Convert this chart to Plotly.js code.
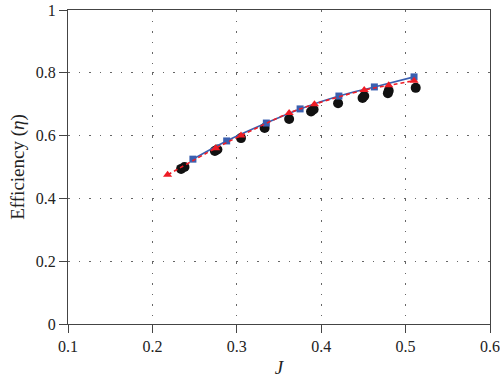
<!DOCTYPE html>
<html>
<head>
<meta charset="utf-8">
<script src="https://cdn.plot.ly/plotly-3.0.1.min.js"></script>
<style>html,body{margin:0;padding:0;background:#fff;}#chart{width:500px;height:390px;}</style>
</head>
<body>
<div id="chart"></div>
<script>
// Blue squares (solid line)
const sqJ   = [0.248, 0.288, 0.335, 0.375, 0.421, 0.463, 0.510];
const sqEff = [0.525, 0.583, 0.640, 0.685, 0.726, 0.755, 0.787];
// Red triangles (dashed line)
const trJ   = [0.218, 0.275, 0.305, 0.362, 0.392, 0.451, 0.480, 0.510];
const trEff = [0.475, 0.560, 0.600, 0.672, 0.700, 0.745, 0.760, 0.775];
// Black circles
const ciJ   = [0.234, 0.238, 0.274, 0.277, 0.305, 0.333, 0.362, 0.388, 0.391, 0.420, 0.449, 0.451, 0.479, 0.480, 0.512];
const ciEff = [0.494, 0.500, 0.551, 0.556, 0.592, 0.624, 0.653, 0.677, 0.683, 0.703, 0.720, 0.726, 0.735, 0.743, 0.752];

const xTicks = [0.1, 0.2, 0.3, 0.4, 0.5, 0.6];
const yTicks = [0, 0.2, 0.4, 0.6, 0.8, 1];
const xTickText = ['0.1','0.2','0.3','0.4','0.5','0.6'];
const yTickText = ['0','0.2','0.4','0.6','0.8','1'];

const traces = [
  {x: ciJ, y: ciEff, mode: 'markers', type: 'scatter',
   marker: {symbol: 'circle', size: 10, color: '#111111'}},
  {x: sqJ, y: sqEff, mode: 'lines+markers', type: 'scatter',
   line: {color: '#3a5fb0', width: 1.6, shape: 'spline'},
   marker: {symbol: 'square', size: 7, color: '#3a5fb0'}},
  {x: trJ, y: trEff, mode: 'lines+markers', type: 'scatter',
   line: {color: '#ee1c25', width: 1.6, dash: '4px,3px', shape: 'spline'},
   marker: {symbol: 'triangle-up', size: 8, color: '#ee1c25'}}
];

const axisCommon = {
  showline: true, linecolor: '#444', linewidth: 1, mirror: true,
  ticks: 'outside', ticklen: 8, tickcolor: '#444', tickwidth: 1,
  showgrid: true, gridcolor: '#666', griddash: '1.5px,9px', gridwidth: 1.2,
  zeroline: false,
  tickfont: {family: 'Liberation Serif, DejaVu Serif, serif', size: 16, color: '#222'}
};

const layout = {
  width: 500, height: 390,
  margin: {l: 68, r: 10, t: 10, b: 66},
  paper_bgcolor: '#fff', plot_bgcolor: '#fff',
  showlegend: false,
  xaxis: Object.assign({}, axisCommon, {
    range: [0.1, 0.6], tickvals: xTicks, ticktext: xTickText,
    title: {text: '<i>J</i>', font: {family: 'Liberation Serif, serif', size: 19, color: '#222'}, standoff: 6}
  }),
  yaxis: Object.assign({}, axisCommon, {
    range: [0, 1], tickvals: yTicks, ticktext: yTickText,
    title: {text: 'Efficiency (<i>η</i>)', font: {family: 'Liberation Serif, serif', size: 19, color: '#222'}, standoff: 6}
  })
};

Plotly.newPlot('chart', traces, layout, {staticPlot: true, displayModeBar: false});
</script>
</body>
</html>
